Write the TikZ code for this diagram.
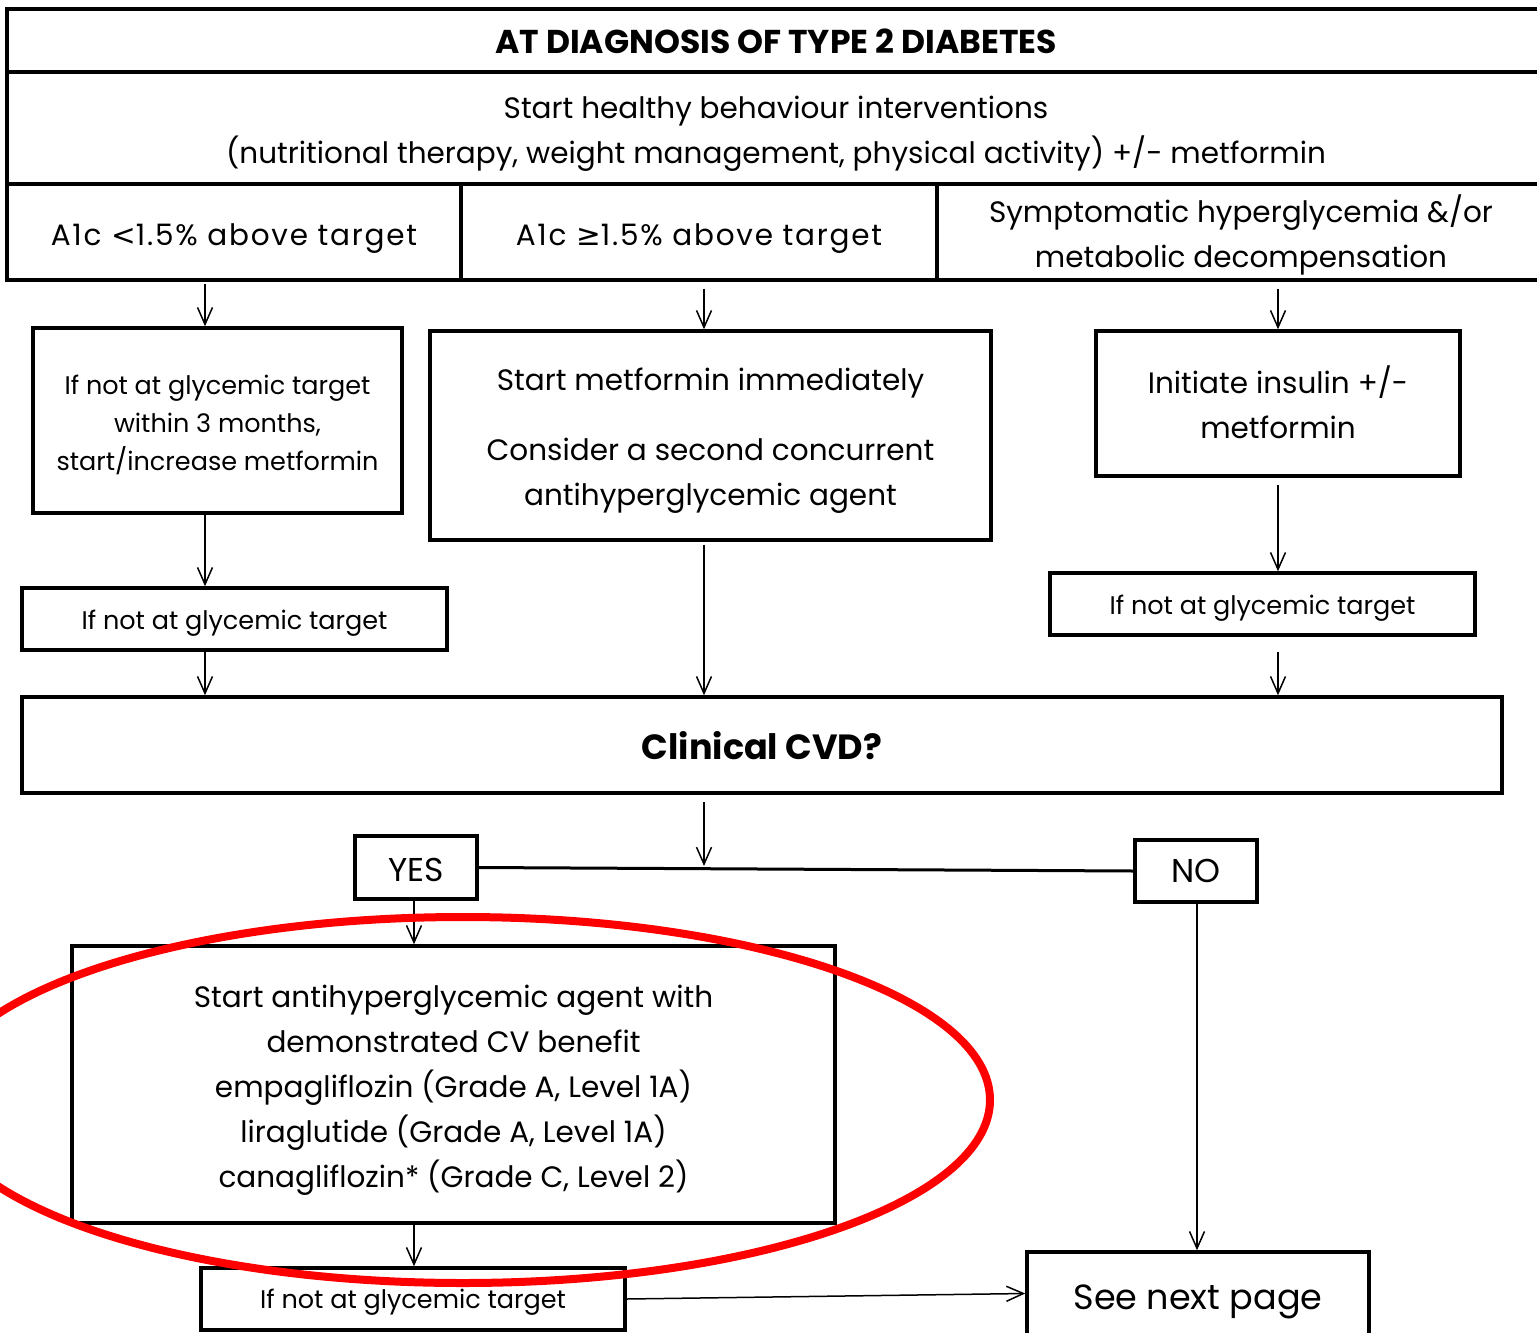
\documentclass[tikz,border=0pt]{standalone}
\usepackage{fontspec}
\setmainfont{Poppins}
\newfontfamily\symfont{DejaVu Sans}
\usetikzlibrary{arrows.meta}
\newcommand\mainsz{\fontsize{29.5}{45}\selectfont}
\newcommand\smallsz{\fontsize{25.5}{38}\selectfont}
\newcommand\bigsz{\fontsize{35}{45}\selectfont}
\newcommand\titlesz{\fontsize{33}{45}\selectfont}
\newcommand\spaced{\addfontfeatures{LetterSpace=6}}
\begin{document}
\begin{tikzpicture}[x=1pt,y=-1pt,
  box/.style={draw, line width=3.5pt, inner sep=0pt},
  lab/.style={align=center, inner sep=0pt, font=\mainsz},
  slab/.style={lab, font=\smallsz},
  arr/.style={line width=1.5pt, -{Straight Barb[length=17pt,width=15pt,line width=1.5pt]}},
  plain/.style={line width=3pt},
  ring/.style={draw=red, line width=8pt}
]
\useasboundingbox (0,0) rectangle (1537,1333);
% header rows
\node[box, minimum width=1538, minimum height=63,
  label={[lab, font=\titlesz\bfseries, yshift=-1pt]center:{AT DIAGNOSIS OF TYPE 2 DIABETES}}] (title) at (776,40.5) {};
\node[box, minimum width=1538, minimum height=112,
  label={[lab, yshift=-6pt]center:{Start healthy behaviour interventions\\(nutritional therapy, weight management, physical activity) +/- metformin}}] (healthy) at (776,128) {};
\node[box, minimum width=454, minimum height=96,
  label={[lab, font=\mainsz\spaced, yshift=-7pt]center:{A1c {\symfont <}1.5\% above target}}] (low) at (234,232) {};
\node[box, minimum width=476, minimum height=96,
  label={[lab, font=\mainsz\spaced, yshift=-7pt]center:{A1c {\symfont ≥}1.5\% above target}}] (high) at (699,232) {};
\node[box, minimum width=608, minimum height=96,
  label={[lab, yshift=-3pt]center:{Symptomatic hyperglycemia \&/or\\metabolic decompensation}}] (sympt) at (1241,232) {};
% second level
\node[box, minimum width=369, minimum height=185,
  label={[slab, yshift=-4pt]center:{If not at glycemic target\\within 3 months,\\start/increase metformin}}] (lowA) at (217.5,420.5) {};
\node[box, minimum width=561, minimum height=209,
  label={[lab, yshift=-5pt]center:{Start metformin immediately\\[25pt]Consider a second concurrent\\antihyperglycemic agent}}] (highA) at (710.5,435.5) {};
\node[box, minimum width=364, minimum height=145,
  label={[lab, yshift=1pt]center:{Initiate insulin +/-\\metformin}}] (symA) at (1278,403.5) {};
\node[box, minimum width=425, minimum height=62,
  label={[slab, yshift=-4pt]center:{If not at glycemic target}}] (lowB) at (234.5,619) {};
\node[box, minimum width=425, minimum height=62,
  label={[slab, yshift=-4pt]center:{If not at glycemic target}}] (symB) at (1262.5,604) {};
% CVD
\node[box, minimum width=1480, minimum height=96,
  label={[lab, font=\bigsz\bfseries, yshift=-1pt]center:{Clinical CVD?}}] (cvd) at (762,745) {};
\node[box, minimum width=122, minimum height=63,
  label={[lab, font=\titlesz, yshift=-2pt]center:{YES}}] (yes) at (416,867.5) {};
\node[box, minimum width=122, minimum height=62,
  label={[lab, font=\titlesz]center:{NO}}] (no) at (1196,871) {};
\node[box, minimum width=763, minimum height=277,
  label={[lab, yshift=-6pt]center:{Start antihyperglycemic agent with\\demonstrated CV benefit\\empagliflozin (Grade A, Level 1A)\\liraglutide (Grade A, Level 1A)\\canagliflozin* (Grade C, Level 2)}}] (cvben) at (453.5,1084.5) {};
\node[box, minimum width=424, minimum height=62,
  label={[slab, yshift=-3pt]center:{If not at glycemic target}}] (cvB) at (413,1299) {};
\node[box, minimum width=342, minimum height=83,
  label={[lab, font=\bigsz, yshift=-8pt]center:{See next page}}] (next) at (1198,1293.5) {};
% x positions of connectors
\coordinate (xl) at (205,0);
\coordinate (xm) at (704,0);
\coordinate (xr) at (1278,0);
\coordinate (xy) at (414,0);
\coordinate (xn) at (1197,0);
\coordinate (join) at (704,866);
% connectors
\draw[arr] ([yshift=-2pt]low.south -| xl) -- (lowA.north -| xl);
\draw[arr] ([yshift=-7pt]high.south -| xm) -- (highA.north -| xm);
\draw[arr] ([yshift=-7pt]sympt.south -| xr) -- (symA.north -| xr);
\draw[arr] (lowA.south -| xl) -- (lowB.north -| xl);
\draw[arr] ([yshift=-7pt]symA.south -| xr) -- (symB.north -| xr);
\draw[arr] (lowB.south -| xl) -- (cvd.north -| xl);
\draw[arr] ([yshift=-3pt]highA.south -| xm) -- (cvd.north -| xm);
\draw[arr] ([yshift=-15pt]symB.south -| xr) -- (cvd.north -| xr);
\draw[arr] ([yshift=-7pt]cvd.south -| xm) -- (join);
\draw[plain] (yes.east) -- (no.west);
\draw[arr] (yes.south -| xy) -- (cvben.north -| xy);
\draw[arr] (cvben.south -| xy) -- (cvB.north -| xy);
\draw[arr] (cvB.east) -- (next.west);
\draw[arr] (no.south -| xn) -- (next.north -| xn);
% highlight ring
\draw[ring] (463,1100) ellipse [x radius=527, y radius=183];
\end{tikzpicture}
\end{document}
